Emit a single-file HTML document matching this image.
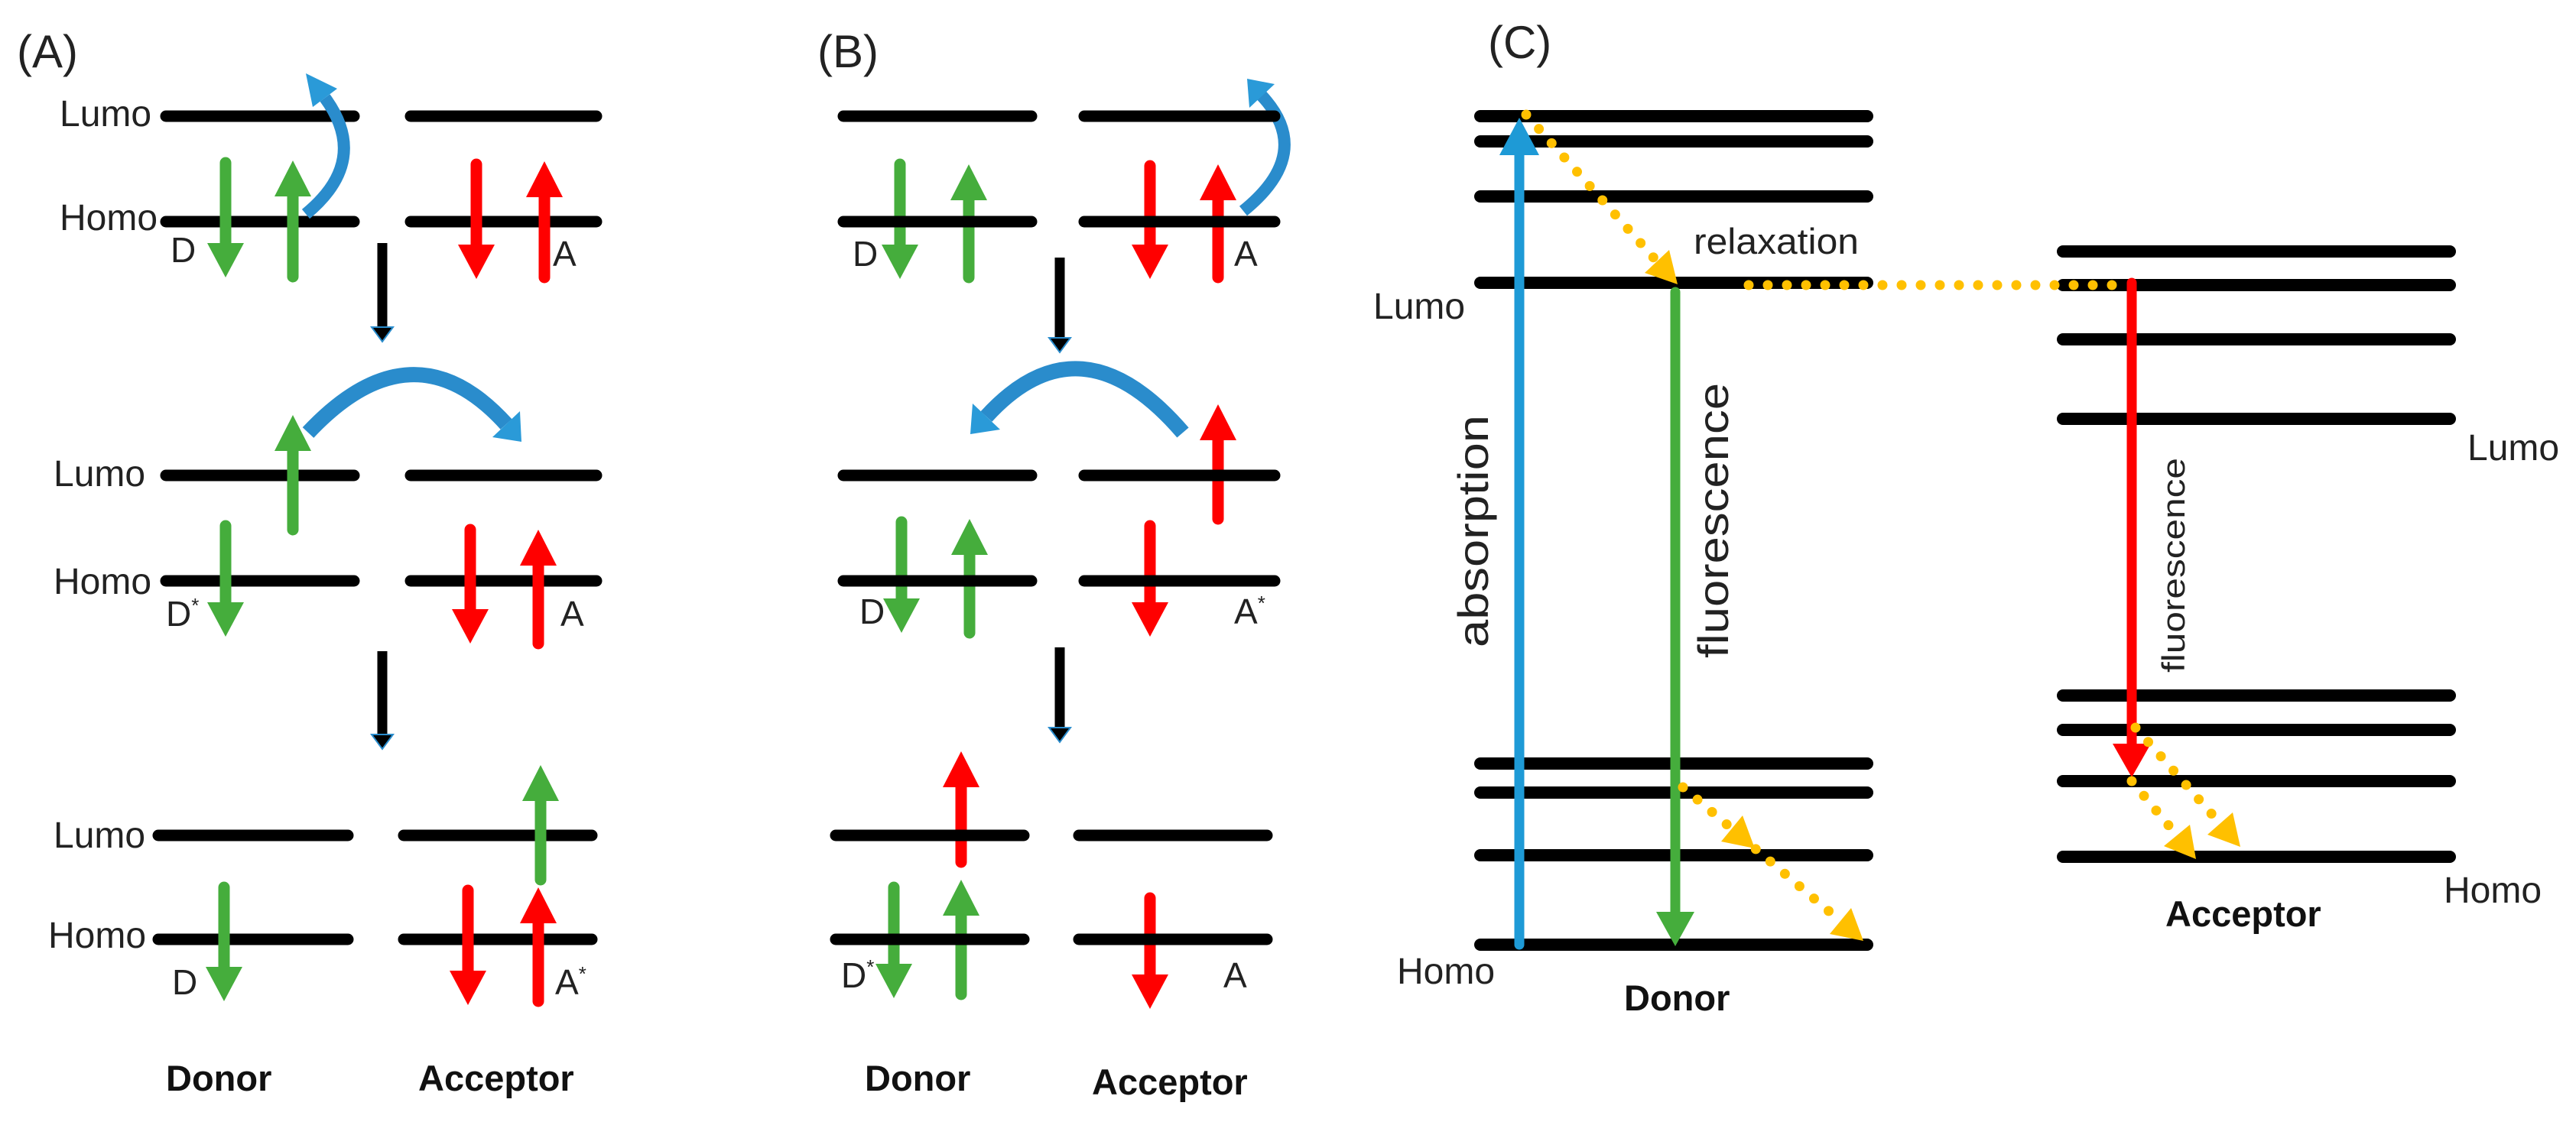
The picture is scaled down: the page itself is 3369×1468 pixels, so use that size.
<!DOCTYPE html>
<html><head><meta charset="utf-8"><style>
html,body{margin:0;padding:0;background:#fff;}
svg{display:block;}
text{font-family:"Liberation Sans",sans-serif;fill:#222;}
.b{font-weight:bold;fill:#111;}
</style></head><body>
<svg width="3369" height="1468" viewBox="0 0 3369 1468" xmlns="http://www.w3.org/2000/svg">
<defs>
<g id="dg"><line x1="0" y1="0" x2="0" y2="-40" stroke="#45ad3c" stroke-width="15" stroke-linecap="round"/></g>
</defs>
<!-- ===== Panel A ===== -->
<text x="22" y="88" font-size="60">(A)</text>
<g stroke="#000" stroke-width="15" stroke-linecap="round">
<line x1="217" y1="152" x2="463" y2="152"/><line x1="537" y1="152" x2="780" y2="152"/>
<line x1="217" y1="290" x2="463" y2="290"/><line x1="537" y1="290" x2="780" y2="290"/>
<line x1="217" y1="622" x2="463" y2="622"/><line x1="537" y1="622" x2="780" y2="622"/>
<line x1="217" y1="760" x2="463" y2="760"/><line x1="537" y1="760" x2="780" y2="760"/>
<line x1="207" y1="1093" x2="455" y2="1093"/><line x1="528" y1="1093" x2="774" y2="1093"/>
<line x1="207" y1="1229" x2="455" y2="1229"/><line x1="528" y1="1229" x2="774" y2="1229"/>
</g>
<text x="78" y="165" font-size="48">Lumo</text>
<text x="78" y="301" font-size="48">Homo</text>
<text x="70" y="636" font-size="48">Lumo</text>
<text x="70" y="777" font-size="48">Homo</text>
<text x="70" y="1109" font-size="48">Lumo</text>
<text x="63" y="1240" font-size="48">Homo</text>
<text x="223" y="343" font-size="46">D</text>
<text x="723" y="348" font-size="46">A</text>
<text x="217" y="819" font-size="46">D<tspan font-size="26" dy="-18">*</tspan></text>
<text x="733" y="819" font-size="46">A</text>
<text x="225" y="1301" font-size="46">D</text>
<text x="726" y="1301" font-size="46">A<tspan font-size="26" dy="-18">*</tspan></text>
<text class="b" x="217" y="1427" font-size="47">Donor</text>
<text class="b" x="547" y="1427" font-size="47">Acceptor</text>

<!-- electron arrows helper styles -->
<g stroke-width="15" stroke-linecap="round">
<!-- A row1 -->
<line x1="295" y1="213" x2="295" y2="320" stroke="#45ad3c"/><polygon points="271,318 319,318 295,363" fill="#45ad3c"/>
<line x1="383" y1="255" x2="383" y2="362" stroke="#45ad3c"/><polygon points="359,257 407,257 383,210" fill="#45ad3c"/>
<line x1="623" y1="215" x2="623" y2="322" stroke="#f00"/><polygon points="599,320 647,320 623,365" fill="#f00"/>
<line x1="712" y1="256" x2="712" y2="363" stroke="#f00"/><polygon points="688,258 736,258 712,211" fill="#f00"/>
<!-- A row2 -->
<line x1="383" y1="588" x2="383" y2="693" stroke="#45ad3c"/><polygon points="359,590 407,590 383,543" fill="#45ad3c"/>
<line x1="295" y1="688" x2="295" y2="790" stroke="#45ad3c"/><polygon points="271,788 319,788 295,833" fill="#45ad3c"/>
<line x1="615" y1="693" x2="615" y2="799" stroke="#f00"/><polygon points="591,797 639,797 615,842" fill="#f00"/>
<line x1="704" y1="738" x2="704" y2="842" stroke="#f00"/><polygon points="680,740 728,740 704,693" fill="#f00"/>
<!-- A row3 -->
<line x1="293" y1="1161" x2="293" y2="1267" stroke="#45ad3c"/><polygon points="269,1265 317,1265 293,1310" fill="#45ad3c"/>
<line x1="612" y1="1165" x2="612" y2="1272" stroke="#f00"/><polygon points="588,1270 636,1270 612,1315" fill="#f00"/>
<line x1="704" y1="1206" x2="704" y2="1310" stroke="#f00"/><polygon points="680,1208 728,1208 704,1161" fill="#f00"/>
<line x1="707" y1="1046" x2="707" y2="1151" stroke="#45ad3c"/><polygon points="683,1048 731,1048 707,1001" fill="#45ad3c"/>

<!-- B row1 -->
<line x1="1177" y1="215" x2="1177" y2="322" stroke="#45ad3c"/><polygon points="1153,320 1201,320 1177,365" fill="#45ad3c"/>
<line x1="1267" y1="260" x2="1267" y2="363" stroke="#45ad3c"/><polygon points="1243,262 1291,262 1267,215" fill="#45ad3c"/>
<line x1="1504" y1="217" x2="1504" y2="322" stroke="#f00"/><polygon points="1480,320 1528,320 1504,365" fill="#f00"/>
<line x1="1593" y1="260" x2="1593" y2="363" stroke="#f00"/><polygon points="1569,262 1617,262 1593,215" fill="#f00"/>
<!-- B row2 -->
<line x1="1179" y1="683" x2="1179" y2="785" stroke="#45ad3c"/><polygon points="1155,783 1203,783 1179,828" fill="#45ad3c"/>
<line x1="1268" y1="724" x2="1268" y2="828" stroke="#45ad3c"/><polygon points="1244,726 1292,726 1268,679" fill="#45ad3c"/>
<line x1="1593" y1="574" x2="1593" y2="679" stroke="#f00"/><polygon points="1569,576 1617,576 1593,529" fill="#f00"/>
<line x1="1504" y1="688" x2="1504" y2="790" stroke="#f00"/><polygon points="1480,788 1528,788 1504,833" fill="#f00"/>
<!-- B row3 -->
<line x1="1257" y1="1028" x2="1257" y2="1128" stroke="#f00"/><polygon points="1233,1030 1281,1030 1257,983" fill="#f00"/>
<line x1="1169" y1="1161" x2="1169" y2="1263" stroke="#45ad3c"/><polygon points="1145,1261 1193,1261 1169,1306" fill="#45ad3c"/>
<line x1="1257" y1="1196" x2="1257" y2="1301" stroke="#45ad3c"/><polygon points="1233,1198 1281,1198 1257,1151" fill="#45ad3c"/>
<line x1="1504" y1="1175" x2="1504" y2="1277" stroke="#f00"/><polygon points="1480,1275 1528,1275 1504,1320" fill="#f00"/>
</g>

<!-- black process arrows -->
<g>
<line x1="500" y1="318" x2="500" y2="432" stroke="#000" stroke-width="13"/><polygon points="486,428 514,428 500,447" fill="#000" stroke="#2a8ccc" stroke-width="2"/>
<line x1="500" y1="852" x2="500" y2="965" stroke="#000" stroke-width="13"/><polygon points="486,961 514,961 500,980" fill="#000" stroke="#2a8ccc" stroke-width="2"/>
<line x1="1386" y1="337" x2="1386" y2="446" stroke="#000" stroke-width="13"/><polygon points="1372,442 1400,442 1386,461" fill="#000" stroke="#2a8ccc" stroke-width="2"/>
<line x1="1386" y1="847" x2="1386" y2="956" stroke="#000" stroke-width="13"/><polygon points="1372,952 1400,952 1386,971" fill="#000" stroke="#2a8ccc" stroke-width="2"/>
</g>

<!-- blue curved arrows -->
<g fill="none" stroke="#2a8ccc" stroke-width="16">
<path d="M400,280 Q485,210 425,128"/>
<path d="M403,566 Q540,420 662,555" stroke-width="20"/>
<path d="M1626,276 Q1720,200 1650,125"/>
<path d="M1547,566 Q1413,410 1290,545" stroke-width="20"/>
</g>
<g fill="#2a9ad8">
<polygon points="400,96 441,116 409,140"/>
<polygon points="682,578 680,538 644,572"/>
<polygon points="1631,103 1667,110 1634,141"/>
<polygon points="1269,568 1308,562 1272,528"/>
</g>

<!-- ===== Panel B labels ===== -->
<text x="1069" y="88" font-size="60">(B)</text>
<g stroke="#000" stroke-width="15" stroke-linecap="round">
<line x1="1103" y1="152" x2="1349" y2="152"/><line x1="1418" y1="152" x2="1667" y2="152"/>
<line x1="1103" y1="290" x2="1349" y2="290"/><line x1="1418" y1="290" x2="1667" y2="290"/>
<line x1="1103" y1="622" x2="1349" y2="622"/><line x1="1418" y1="622" x2="1667" y2="622"/>
<line x1="1103" y1="760" x2="1349" y2="760"/><line x1="1418" y1="760" x2="1667" y2="760"/>
<line x1="1093" y1="1093" x2="1339" y2="1093"/><line x1="1411" y1="1093" x2="1657" y2="1093"/>
<line x1="1093" y1="1229" x2="1339" y2="1229"/><line x1="1411" y1="1229" x2="1657" y2="1229"/>
</g>
<text x="1115" y="348" font-size="46">D</text>
<text x="1614" y="348" font-size="46">A</text>
<text x="1124" y="816" font-size="46">D</text>
<text x="1614" y="816" font-size="46">A<tspan font-size="26" dy="-18">*</tspan></text>
<text x="1100" y="1292" font-size="46">D<tspan font-size="26" dy="-18">*</tspan></text>
<text x="1600" y="1292" font-size="46">A</text>
<text class="b" x="1131" y="1427" font-size="47">Donor</text>
<text class="b" x="1428" y="1432" font-size="47">Acceptor</text>

<!-- ===== Panel C ===== -->
<text x="1946" y="76" font-size="60">(C)</text>
<g stroke="#000" stroke-width="16" stroke-linecap="round">
<line x1="1936" y1="152" x2="2442" y2="152"/>
<line x1="1936" y1="185" x2="2442" y2="185"/>
<line x1="1936" y1="257" x2="2442" y2="257"/>
<line x1="1936" y1="370" x2="2442" y2="370"/>
<line x1="1936" y1="999" x2="2442" y2="999"/>
<line x1="1936" y1="1037" x2="2442" y2="1037"/>
<line x1="1936" y1="1119" x2="2442" y2="1119"/>
<line x1="1936" y1="1236" x2="2442" y2="1236"/>
<line x1="2698" y1="329" x2="3204" y2="329"/>
<line x1="2698" y1="373" x2="3204" y2="373"/>
<line x1="2698" y1="444" x2="3204" y2="444"/>
<line x1="2698" y1="548" x2="3204" y2="548"/>
<line x1="2698" y1="910" x2="3204" y2="910"/>
<line x1="2698" y1="955" x2="3204" y2="955"/>
<line x1="2698" y1="1022" x2="3204" y2="1022"/>
<line x1="2698" y1="1121" x2="3204" y2="1121"/>
</g>
<!-- absorption -->
<line x1="1987" y1="195" x2="1987" y2="1236" stroke="#1e9ad6" stroke-width="13" stroke-linecap="round"/>
<polygon points="1961,203 2013,203 1987,154" fill="#1e9ad6"/>
<!-- green fluorescence -->
<line x1="2191" y1="382" x2="2191" y2="1200" stroke="#45ad3c" stroke-width="13" stroke-linecap="round"/>
<polygon points="2166,1193 2216,1193 2191,1238" fill="#45ad3c"/>
<!-- red fluorescence -->
<line x1="2788" y1="370" x2="2788" y2="980" stroke="#f00" stroke-width="13" stroke-linecap="round"/>
<polygon points="2763,973 2813,973 2788,1017" fill="#f00"/>
<!-- yellow dotted -->
<g stroke="#ffc000" stroke-width="13" stroke-linecap="round" stroke-dasharray="0 25" fill="none">
<line x1="1996" y1="150" x2="2167" y2="342"/>
<line x1="2287" y1="373" x2="2782" y2="373"/>
<line x1="2201" y1="1030" x2="2407" y2="1205"/>
<line x1="2788" y1="1022" x2="2847" y2="1093"/>
<line x1="2793" y1="952" x2="2904" y2="1078"/>
</g>
<g fill="#ffc000">
<polygon points="2194,372 2183,327 2151,357"/>
<polygon points="2295,1110 2279,1067 2251,1101"/>
<polygon points="2437,1231 2421,1188 2393,1222"/>
<polygon points="2872,1124 2864,1079 2830,1107"/>
<polygon points="2930,1108 2920,1063 2887,1092"/>
</g>
<text x="2215" y="332" font-size="47" textLength="216" lengthAdjust="spacingAndGlyphs">relaxation</text>
<text x="1796" y="417" font-size="48">Lumo</text>
<text x="1827" y="1287" font-size="48">Homo</text>
<text x="3227" y="602" font-size="48">Lumo</text>
<text x="3196" y="1181" font-size="48">Homo</text>
<text class="b" x="2124" y="1322" font-size="47">Donor</text>
<text class="b" x="2832" y="1212" font-size="47">Acceptor</text>
<text transform="translate(1946,847) rotate(-90)" font-size="56" textLength="304" lengthAdjust="spacingAndGlyphs">absorption</text>
<text transform="translate(2260,861) rotate(-90)" font-size="56" textLength="360" lengthAdjust="spacingAndGlyphs">fluorescence</text>
<text transform="translate(2857,880) rotate(-90)" font-size="42" textLength="281" lengthAdjust="spacingAndGlyphs">fluorescence</text>
</svg>
</body></html>
